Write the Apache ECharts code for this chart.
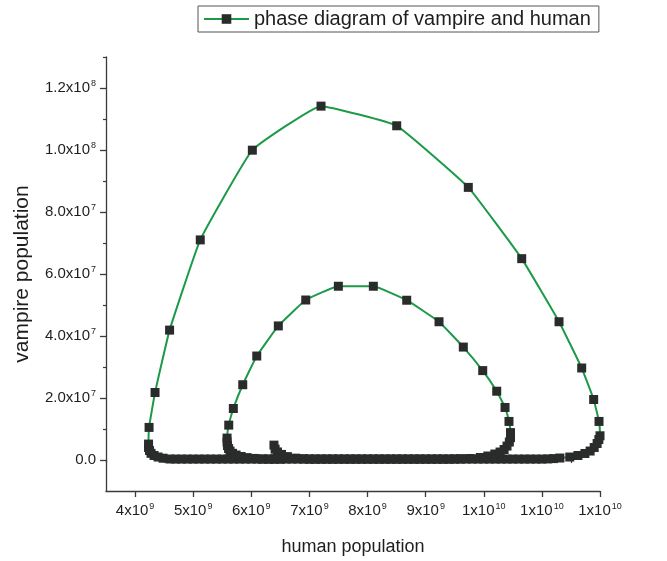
<!DOCTYPE html>
<html>
<head>
<meta charset="utf-8">
<script src="https://cdn.jsdelivr.net/npm/echarts@6/dist/echarts.min.js"></script>
<style>
  html, body { margin: 0; padding: 0; background: #ffffff; }
  #chart { width: 667px; height: 561px; }
</style>
</head>
<body>
<div id="chart"></div>
<script>
// Trajectory of the vampire/human system, as [human, vampire] pairs in time order.
// Leg 1: start near the floor, humans grow while vampires stay near zero, then vampires rise.
const legStart = [
  [6.39e9, 4.8e6], [6.41e9, 3.5e6], [6.45e9, 2.6e6], [6.52e9, 1.8e6], [6.62e9, 1.1e6],
  [6.76e9, 6.0e5], [6.90e9, 4.0e5],
  [7.0e9, 3e5], [7.1e9, 3e5], [7.2e9, 3e5], [7.3e9, 3e5], [7.4e9, 3e5], [7.5e9, 3e5],
  [7.6e9, 3e5], [7.7e9, 3e5], [7.8e9, 3e5], [7.9e9, 3e5], [8.0e9, 3e5], [8.1e9, 3e5],
  [8.2e9, 3e5], [8.3e9, 3e5], [8.4e9, 3e5], [8.5e9, 3e5], [8.6e9, 3e5], [8.7e9, 3e5],
  [8.8e9, 3e5], [8.9e9, 3e5], [9.0e9, 3e5], [9.1e9, 3e5], [9.2e9, 3e5], [9.3e9, 3e5],
  [9.4e9, 3e5], [9.5e9, 3.5e5], [9.6e9, 4e5],
  [9.76e9, 4.8e5], [9.94e9, 8.0e5], [1.007e10, 1.29e6], [1.019e10, 1.93e6], [1.028e10, 2.57e6],
  [1.035e10, 3.38e6], [1.040e10, 4.5e6], [1.044e10, 5.79e6], [1.046e10, 7.23e6], [1.046e10, 8.84e6]
];
// Leg 2: inner arch over the top.
const legInnerArch = [
  [1.0434e10, 1.244e7], [1.0366e10, 1.695e7], [1.0223e10, 2.219e7], [9.982e9, 2.884e7],
  [9.648e9, 3.643e7], [9.23e9, 4.46e7], [8.674e9, 5.154e7], [8.1e9, 5.605e7],
  [7.498e9, 5.605e7], [6.937e9, 5.161e7], [6.465e9, 4.325e7], [6.094e9, 3.354e7],
  [5.853e9, 2.428e7], [5.691e9, 1.662e7], [5.612e9, 1.125e7]
];
// Leg 3: vampires collapse, humans recover along the floor.
const legInnerFloor = [
  [5.583e9, 7.07e6], [5.583e9, 5.79e6], [5.591e9, 4.66e6], [5.609e9, 3.7e6], [5.634e9, 2.89e6],
  [5.677e9, 2.15e6], [5.738e9, 1.61e6], [5.824e9, 1.13e6], [5.927e9, 7.7e5], [6.047e9, 5.1e5],
  [6.185e9, 3.2e5],
  [6.3e9, 3e5], [6.4e9, 3e5], [6.5e9, 3e5], [6.6e9, 3e5], [6.7e9, 3e5], [6.8e9, 3e5], [6.9e9, 3e5],
  [7.0e9, 3e5], [7.1e9, 3e5], [7.2e9, 3e5], [7.3e9, 3e5], [7.4e9, 3e5], [7.5e9, 3e5], [7.6e9, 3e5],
  [7.7e9, 3e5], [7.8e9, 3e5], [7.9e9, 3e5], [8.0e9, 3e5], [8.1e9, 3e5], [8.2e9, 3e5], [8.3e9, 3e5],
  [8.4e9, 3e5], [8.5e9, 3e5], [8.6e9, 3e5], [8.7e9, 3e5], [8.8e9, 3e5], [8.9e9, 3e5], [9.0e9, 3e5],
  [9.1e9, 3e5], [9.2e9, 3e5], [9.3e9, 3e5], [9.4e9, 3e5], [9.5e9, 3e5], [9.6e9, 3e5], [9.7e9, 3e5],
  [9.8e9, 3e5], [9.9e9, 3e5], [1.00e10, 3e5], [1.01e10, 3e5], [1.02e10, 3e5], [1.03e10, 3e5],
  [1.04e10, 3e5], [1.05e10, 3e5], [1.06e10, 3e5], [1.07e10, 3e5], [1.08e10, 3e5], [1.09e10, 3e5],
  [1.10e10, 3e5], [1.11e10, 3.5e5], [1.12e10, 4.5e5],
  [1.131e10, 6.4e5], [1.148e10, 9.6e5], [1.162e10, 1.45e6], [1.174e10, 2.09e6], [1.183e10, 2.89e6],
  [1.190e10, 4.02e6], [1.195e10, 5.31e6], [1.198e10, 6.59e6], [1.200e10, 7.81e6]
];
// Leg 4: outer arch over the top.
const legOuterArch = [
  [1.1983e10, 1.244e7], [1.1891e10, 1.952e7], [1.1685e10, 2.968e7], [1.1295e10, 4.46e7],
  [1.0653e10, 6.495e7], [9.734e9, 8.794e7], [8.502e9, 1.0781e8], [7.2e9, 1.1415e8],
  [6.018e9, 9.994e7], [5.122e9, 7.1e7], [4.594e9, 4.19e7], [4.344e9, 2.177e7], [4.241e9, 1.051e7]
];
// Leg 5: second collapse and recovery along the floor.
const legOuterFloor = [
  [4.232e9, 5.14e6], [4.232e9, 4.02e6], [4.249e9, 3.05e6], [4.275e9, 2.15e6], [4.327e9, 1.45e6],
  [4.396e9, 9.6e5], [4.482e9, 5.8e5], [4.602e9, 3.2e5],
  [4.7e9, 3e5], [4.8e9, 3e5], [4.9e9, 3e5], [5.0e9, 3e5], [5.1e9, 3e5], [5.2e9, 3e5], [5.3e9, 3e5],
  [5.4e9, 3e5], [5.5e9, 3e5], [5.6e9, 3e5], [5.7e9, 3e5], [5.8e9, 3e5], [5.9e9, 3e5], [6.0e9, 3e5],
  [6.1e9, 3e5], [6.2e9, 3e5], [6.3e9, 3e5], [6.4e9, 3e5], [6.5e9, 3e5]
];

const seriesName = 'phase diagram of vampire and human';
const xName = 'human population';
const yName = 'vampire population';

// Axis ticks
const xMajorTicks = [4e9, 5e9, 6e9, 7e9, 8e9, 9e9, 1e10, 1.1e10, 1.2e10];
const xMinorTicks = [3.5e9, 4.5e9, 5.5e9, 6.5e9, 7.5e9, 8.5e9, 9.5e9, 1.05e10, 1.15e10];
const yMajorTicks = [0, 2e7, 4e7, 6e7, 8e7, 1e8, 1.2e8];
const yMinorTicks = [1e7, 3e7, 5e7, 7e7, 9e7, 1.1e8, 1.3e8];

const FONT = '"Liberation Sans", Arial, Helvetica, sans-serif';
const INK = '#1e1e1e';
const AXIS = '#3a3a3a';

const trajectory = [].concat(legStart, legInnerArch, legInnerFloor, legOuterArch, legOuterFloor);

function sciLabel(v, digits) {
  if (v === 0) return '{b|0.0}';
  const e = Math.floor(Math.log10(Math.abs(v)) + 1e-9);
  const m = v / Math.pow(10, e);
  const mant = digits > 0 ? m.toFixed(digits) : String(Math.round(m));
  return '{b|' + mant + 'x10}{s|' + e + '}';
}

const richText = {
  b: { fontSize: 15, fontFamily: FONT, color: INK, lineHeight: 18 },
  s: { fontSize: 9, fontFamily: FONT, color: INK, verticalAlign: 'top', lineHeight: 10, padding: [0, 0, 0, 1] }
};

const chart = echarts.init(document.getElementById('chart'), null, { renderer: 'canvas' });

chart.setOption({
  animation: false,
  backgroundColor: '#ffffff',
  legend: {
    data: [seriesName],
    left: 198,
    top: 6,
    padding: [3, 8, 3, 5],
    borderColor: '#555555',
    borderWidth: 1,
    itemWidth: 45,
    itemHeight: 12,
    itemGap: 5,
    selectedMode: false,
    textStyle: { fontSize: 20, fontFamily: FONT, color: INK }
  },
  grid: { left: 106, right: 67, top: 57, bottom: 69 },
  xAxis: [
    {
      type: 'value',
      position: 'bottom',
      min: 3.5e9,
      max: 1.2e10,
      name: xName,
      nameLocation: 'middle',
      nameGap: 47,
      nameTextStyle: { fontSize: 18, fontFamily: FONT, color: INK },
      axisLine: { show: true, onZero: false, lineStyle: { color: AXIS, width: 1.3 } },
      axisTick: { show: true, customValues: xMajorTicks, length: 6, lineStyle: { color: AXIS, width: 1.3 } },
      axisLabel: {
        customValues: xMajorTicks,
        margin: 11,
        formatter: v => sciLabel(v, 0),
        rich: richText
      },
      splitLine: { show: false }
    },
    {
      type: 'value',
      position: 'bottom',
      min: 3.5e9,
      max: 1.2e10,
      axisLine: { show: false },
      axisTick: { show: true, customValues: xMinorTicks, length: 3, lineStyle: { color: AXIS, width: 1.2 } },
      axisLabel: { show: false },
      splitLine: { show: false }
    }
  ],
  yAxis: [
    {
      type: 'value',
      position: 'left',
      min: -1e7,
      max: 1.3e8,
      name: yName,
      nameLocation: 'middle',
      nameGap: 73,
      nameRotate: 90,
      nameTextStyle: { fontSize: 21, fontFamily: FONT, color: INK },
      axisLine: { show: true, onZero: false, lineStyle: { color: AXIS, width: 1.3 } },
      axisTick: { show: true, customValues: yMajorTicks, length: 6, lineStyle: { color: AXIS, width: 1.3 } },
      axisLabel: {
        customValues: yMajorTicks,
        margin: 10,
        formatter: v => sciLabel(v, 1),
        rich: richText
      },
      splitLine: { show: false }
    },
    {
      type: 'value',
      position: 'left',
      min: -1e7,
      max: 1.3e8,
      axisLine: { show: false },
      axisTick: { show: true, customValues: yMinorTicks, length: 3, lineStyle: { color: AXIS, width: 1.2 } },
      axisLabel: { show: false },
      splitLine: { show: false }
    }
  ],
  series: [
    {
      name: seriesName,
      type: 'line',
      xAxisIndex: 0,
      yAxisIndex: 0,
      data: trajectory,
      clip: false,
      smooth: 0.1,
      symbol: 'rect',
      symbolSize: 9,
      showSymbol: true,
      showAllSymbol: true,
      lineStyle: { color: '#1c9a48', width: 2 },
      itemStyle: { color: '#2a2c2b' },
      emphasis: { disabled: true }
    }
  ]
});
</script>
</body>
</html>
